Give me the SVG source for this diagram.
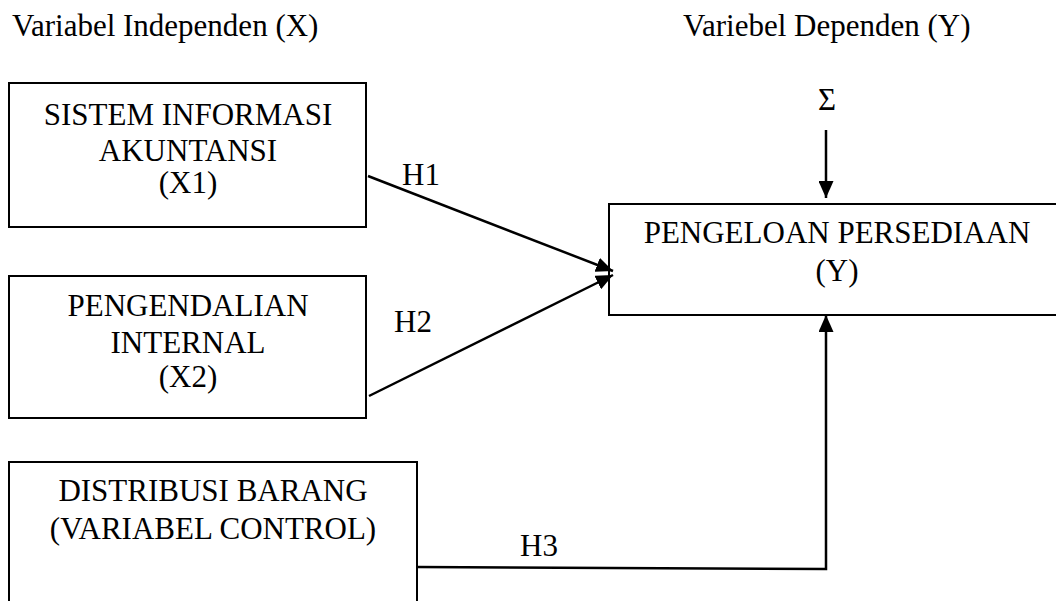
<svg xmlns="http://www.w3.org/2000/svg" width="1056" height="601" viewBox="0 0 1056 601" font-family="'Liberation Serif', 'Times New Roman', 'DejaVu Serif', serif">
<style>
text{font-family:'Liberation Serif','Times New Roman','DejaVu Serif',serif;font-size:31px;fill:#000}
.c{text-anchor:middle}
.box{fill:#fff;stroke:#000;stroke-width:2}
.ln{fill:none;stroke:#000;stroke-width:2.5}
</style>
<defs>
<marker id="ah" viewBox="0 0 17 15" refX="17" refY="7.5" markerWidth="17" markerHeight="15" markerUnits="userSpaceOnUse" orient="auto">
<path d="M0,0 L17,7.5 L0,15 Z" fill="#000"/>
</marker>
</defs>
<rect width="1056" height="601" fill="#fff"/>
<text x="12" y="36">Variabel Independen (X)</text>
<text x="683" y="36">Variebel Dependen (Y)</text>
<g id="x1">
<rect class="box" x="9" y="83" width="357" height="144"/>
<text class="c" x="188" y="125">SISTEM INFORMASI</text>
<text class="c" x="188" y="161">AKUNTANSI</text>
<text class="c" x="188" y="193">(X1)</text>
</g>
<g id="x2">
<rect class="box" x="9" y="276" width="357" height="142"/>
<text class="c" x="188" y="316">PENGENDALIAN</text>
<text class="c" x="188" y="353">INTERNAL</text>
<text class="c" x="188" y="387">(X2)</text>
</g>
<g id="x3">
<path class="box" d="M9,610 L9,462 L417,462 L417,610" fill="none"/>
<text class="c" x="213" y="501">DISTRIBUSI BARANG</text>
<text class="c" x="213" y="539">(VARIABEL CONTROL)</text>
</g>
<g id="y">
<path class="box" d="M1060,204 L609,204 L609,315 L1060,315"/>
<text class="c" x="837" y="243">PENGELOAN PERSEDIAAN</text>
<text class="c" x="837" y="281">(Y)</text>
</g>
<g id="sigma">
<text class="c" x="827" y="110">Σ</text>
</g>
<g id="connectors">
<line class="ln" x1="368" y1="176" x2="613" y2="271" marker-end="url(#ah)"/>
<line class="ln" x1="369" y1="396" x2="613" y2="275" marker-end="url(#ah)"/>
<line class="ln" x1="826" y1="130" x2="826" y2="198" marker-end="url(#ah)"/>
<path class="ln" d="M417,567 L826,569 L826,315" marker-end="url(#ah)"/>
<text x="402" y="185">H1</text>
<text x="394" y="332">H2</text>
<text x="520" y="556">H3</text>
</g>
</svg>
